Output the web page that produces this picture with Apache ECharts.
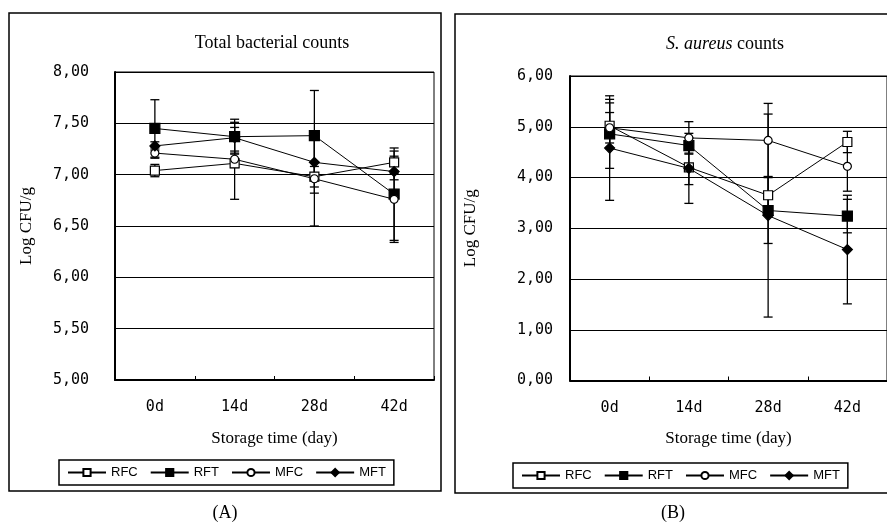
<!DOCTYPE html>
<html>
<head>
<meta charset="utf-8">
<script src="https://cdn.jsdelivr.net/npm/echarts@6/dist/echarts.min.js"></script>
<style>
  html, body { margin: 0; padding: 0; background: #fff; }
  #chart { width: 887px; height: 527px; }
</style>
</head>
<body>
<div id="chart"></div>
<script>
// storage days on the x axis
const categories = ['0d', '14d', '28d', '42d'];
const seriesNames = ['RFC', 'RFT', 'MFC', 'MFT'];

// (A) total bacterial counts, log CFU/g
const tbcRFC = [7.04, 7.11, 6.98, 7.12];
const tbcRFT = [7.45, 7.37, 7.38, 6.81];
const tbcMFC = [7.21, 7.15, 6.96, 6.76];
const tbcMFT = [7.28, 7.36, 7.12, 7.03];
// error bar half widths
const tbcRFCErr = [0.06, 0.35, 0.10, 0.11];
const tbcRFTErr = [0.28, 0.17, 0.44, 0.45];
const tbcMFCErr = [0.05, 0.08, 0.46, 0.42];
const tbcMFTErr = [0.04, 0.15, 0.30, 0.08];

// (B) S. aureus counts, log CFU/g
const saRFC = [5.02, 4.20, 3.65, 4.70];
const saRFT = [4.86, 4.63, 3.35, 3.24];
const saMFC = [4.98, 4.78, 4.73, 4.22];
const saMFT = [4.58, 4.18, 3.25, 2.58];
const saRFCErr = [0.45, 0.34, 0.37, 0.21];
const saRFTErr = [0.68, 0.15, 0.65, 0.33];
const saMFCErr = [0.30, 0.32, 0.73, 0.49];
const saMFTErr = [1.03, 0.69, 2.00, 1.07];

const yTicksA = [5, 5.5, 6, 6.5, 7, 7.5, 8];
const yTicksB = [0, 1, 2, 3, 4, 5, 6];

const chart = echarts.init(document.getElementById('chart'));

// marker look per series
const markers = {
  RFC: { symbol: 'rect', size: 9, fill: '#fff' },
  RFT: { symbol: 'rect', size: 10, fill: '#000' },
  MFC: { symbol: 'circle', size: 8, fill: '#fff' },
  MFT: { symbol: 'diamond', size: 10, fill: '#000' }
};

function lineSeries(name, data, idx) {
  const m = markers[name];
  return {
    name: name,
    type: 'line',
    xAxisIndex: idx,
    yAxisIndex: idx,
    data: data,
    symbol: m.symbol,
    symbolSize: m.size,
    showAllSymbol: true,
    z: 3,
    color: '#000',
    lineStyle: { color: '#000', width: 1 },
    itemStyle: { color: m.fill, borderColor: '#000', borderWidth: 1.2 },
    emphasis: { disabled: true },
    animation: false
  };
}

function errSeries(name, means, errs, idx) {
  return {
    name: name + ' sd',
    type: 'custom',
    xAxisIndex: idx,
    yAxisIndex: idx,
    z: 2,
    color: '#000',
    silent: true,
    animation: false,
    data: means.map((v, i) => [i, v - errs[i], v + errs[i]]),
    renderItem: function (params, api) {
      const lo = api.coord([api.value(0), api.value(1)]);
      const hi = api.coord([api.value(0), api.value(2)]);
      const w = 4.5;
      const st = { stroke: '#000', lineWidth: 1.3 };
      return {
        type: 'group',
        children: [
          { type: 'line', shape: { x1: lo[0], y1: lo[1], x2: hi[0], y2: hi[1] }, style: st },
          { type: 'line', shape: { x1: lo[0] - w, y1: lo[1], x2: lo[0] + w, y2: lo[1] }, style: st },
          { type: 'line', shape: { x1: hi[0] - w, y1: hi[1], x2: hi[0] + w, y2: hi[1] }, style: st }
        ]
      };
    }
  };
}

const fmt = v => v.toFixed(2).replace('.', ',');
const monoFont = 'DejaVu Sans Mono';
const serifFont = 'Liberation Serif';

function xAx(idx) {
  return {
    type: 'category',
    gridIndex: idx,
    data: categories,
    boundaryGap: true,
    axisLine: { lineStyle: { color: '#000', width: 2 } },
    axisTick: { show: true, inside: true, length: 4, lineStyle: { color: '#000' } },
    axisLabel: { color: '#000', fontFamily: monoFont, fontSize: 15, margin: 20 },
    name: 'Storage time (day)',
    nameLocation: 'middle',
    nameGap: 50,
    nameTextStyle: { color: '#000', fontFamily: serifFont, fontSize: 17 }
  };
}

function yAx(idx, ticks, interval, labelMargin, nameGap) {
  return {
    type: 'value',
    gridIndex: idx,
    min: ticks[0],
    max: ticks[ticks.length - 1],
    interval: interval,
    axisLine: { show: true, lineStyle: { color: '#000', width: 2 } },
    axisTick: { show: false },
    splitLine: { lineStyle: { color: '#000', width: 1 } },
    axisLabel: { color: '#000', fontFamily: monoFont, fontSize: 15, margin: labelMargin, formatter: fmt },
    name: 'Log CFU/g',
    nameLocation: 'middle',
    nameGap: nameGap,
    nameRotate: 90,
    nameTextStyle: { color: '#000', fontFamily: serifFont, fontSize: 17 }
  };
}

function legendAt(left, top) {
  return {
    left: left,
    top: top,
    data: seriesNames,
    orient: 'horizontal',
    itemWidth: 38,
    itemHeight: 9,
    itemGap: 12,
    padding: [6, 8],
    borderColor: '#000',
    borderWidth: 1.5,
    selectedMode: false,
    textStyle: { color: '#000', fontFamily: 'Liberation Sans', fontSize: 13 }
  };
}

const option = {
  backgroundColor: '#fff',
  animation: false,
  grid: [
    { left: 115, top: 72, width: 319, height: 308, show: true, borderColor: '#000', borderWidth: 1, containLabel: false },
    { left: 570, top: 76, width: 317, height: 304.5, show: true, borderColor: '#000', borderWidth: 1, containLabel: false }
  ],
  xAxis: [xAx(0), xAx(1)],
  yAxis: [yAx(0, yTicksA, 0.5, 26, 80), yAx(1, yTicksB, 1, 17, 91)],
  legend: [legendAt(59, 460), legendAt(513, 463)],
  graphic: [
    { type: 'rect', shape: { x: 9, y: 13, width: 432, height: 478 }, style: { fill: 'none', stroke: '#000', lineWidth: 1.5 }, z: 0 },
    { type: 'rect', shape: { x: 455, y: 14, width: 460, height: 479 }, style: { fill: 'none', stroke: '#000', lineWidth: 1.5 }, z: 0 },
    { type: 'text', x: 272, y: 43, style: { text: 'Total bacterial counts', font: '18px "Liberation Serif"', fill: '#000', textAlign: 'center', textVerticalAlign: 'middle' } },
    { type: 'text', x: 725, y: 44, style: { text: '{i|S. aureus} counts', font: '18px "Liberation Serif"', fill: '#000', textAlign: 'center', textVerticalAlign: 'middle', rich: { i: { fontStyle: 'italic', fontFamily: serifFont, fontSize: 18 } } } },
    { type: 'text', x: 225, y: 513, style: { text: '(A)', font: '18px "Liberation Serif"', fill: '#000', textAlign: 'center', textVerticalAlign: 'middle' } },
    { type: 'text', x: 673, y: 513, style: { text: '(B)', font: '18px "Liberation Serif"', fill: '#000', textAlign: 'center', textVerticalAlign: 'middle' } }
  ],
  series: [
    lineSeries('RFC', tbcRFC, 0),
    lineSeries('RFT', tbcRFT, 0),
    lineSeries('MFC', tbcMFC, 0),
    lineSeries('MFT', tbcMFT, 0),
    lineSeries('RFC', saRFC, 1),
    lineSeries('RFT', saRFT, 1),
    lineSeries('MFC', saMFC, 1),
    lineSeries('MFT', saMFT, 1),
    errSeries('RFC', tbcRFC, tbcRFCErr, 0),
    errSeries('RFT', tbcRFT, tbcRFTErr, 0),
    errSeries('MFC', tbcMFC, tbcMFCErr, 0),
    errSeries('MFT', tbcMFT, tbcMFTErr, 0),
    errSeries('RFC', saRFC, saRFCErr, 1),
    errSeries('RFT', saRFT, saRFTErr, 1),
    errSeries('MFC', saMFC, saMFCErr, 1),
    errSeries('MFT', saMFT, saMFTErr, 1)
  ]
};

chart.setOption(option);
</script>
</body>
</html>
